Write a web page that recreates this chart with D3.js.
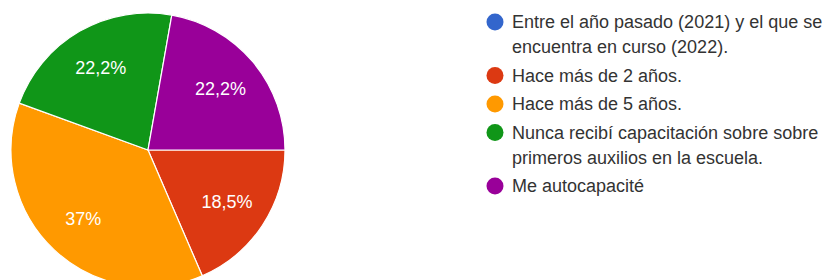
<!DOCTYPE html>
<html>
<head>
<meta charset="utf-8">
<script src="https://cdn.jsdelivr.net/npm/d3@7"></script>
<style>
	body { margin: 0; background: #fff; }
	svg { display: block; }
</style>
</head>
<body>
<svg id="chart" width="828" height="280"></svg>
<script>
// answers, in the order the form lists them
var categories = [
	["Entre el año pasado (2021) y el que se", "encuentra en curso (2022)."],
	["Hace más de 2 años."],
	["Hace más de 5 años."],
	["Nunca recibí capacitación sobre sobre", "primeros auxilios en la escuela."],
	["Me autocapacité"]
];
var percents = [0, 18.5, 37, 22.2, 22.2];
var colors = ["#3366cc", "#dc3912", "#ff9900", "#109618", "#990099"];

var svg = d3.select("#chart");
var cx = 148, cy = 150, radius = 137;
var font = "Arial, 'Liberation Sans', sans-serif";

var data = percents.map((v, i) => ({ value: v, lines: categories[i], color: colors[i] }));

// google forms starts this one at 3 o'clock
var pie = d3.pie()
	.sort(null)
	.value(d => d.value)
	.startAngle(Math.PI / 2)
	.endAngle(Math.PI / 2 + 2 * Math.PI);

var arc = d3.arc().innerRadius(0).outerRadius(radius);
var labelArc = d3.arc().innerRadius(radius * 0.69).outerRadius(radius * 0.69);

var g = svg.append("g")
	.attr("transform", "translate(" + cx + "," + cy + ")");

var arcs = pie(data).filter(d => d.value > 0);

g.selectAll("path")
	.data(arcs)
	.enter()
	.append("path")
	.attr("d", arc)
	.style("fill", d => d.data.color)
	.style("stroke", "#fff")
	.style("stroke-width", 1.2);

g.selectAll("text")
	.data(arcs)
	.enter()
	.append("text")
	.attr("x", d => labelArc.centroid(d)[0])
	.attr("y", d => labelArc.centroid(d)[1])
	.attr("text-anchor", "middle")
	.attr("dominant-baseline", "central")
	.style("font-family", font)
	.style("font-size", "18px")
	.style("fill", "#fff")
	.text(d => String(d.data.value).replace(".", ",") + "%");

// --------------------------------------------
// Legend
// --------------------------------------------
var lineH = 25, itemPad = 3.5;
var y = 22;
var legend = svg.append("g").attr("class", "legend");

data.forEach(function(d) {
	var item = legend.append("g").attr("transform", "translate(0," + y + ")");
	item.append("circle")
		.attr("cx", 495)
		.attr("cy", 0)
		.attr("r", 8.5)
		.style("fill", d.color);
	d.lines.forEach(function(line, j) {
		item.append("text")
			.attr("x", 512)
			.attr("y", j * lineH)
			.attr("dominant-baseline", "central")
			.style("font-family", font)
			.style("font-size", "18px")
			.style("fill", "#333")
			.text(line);
	});
	y += d.lines.length * lineH + itemPad;
});
</script>
</body>
</html>
